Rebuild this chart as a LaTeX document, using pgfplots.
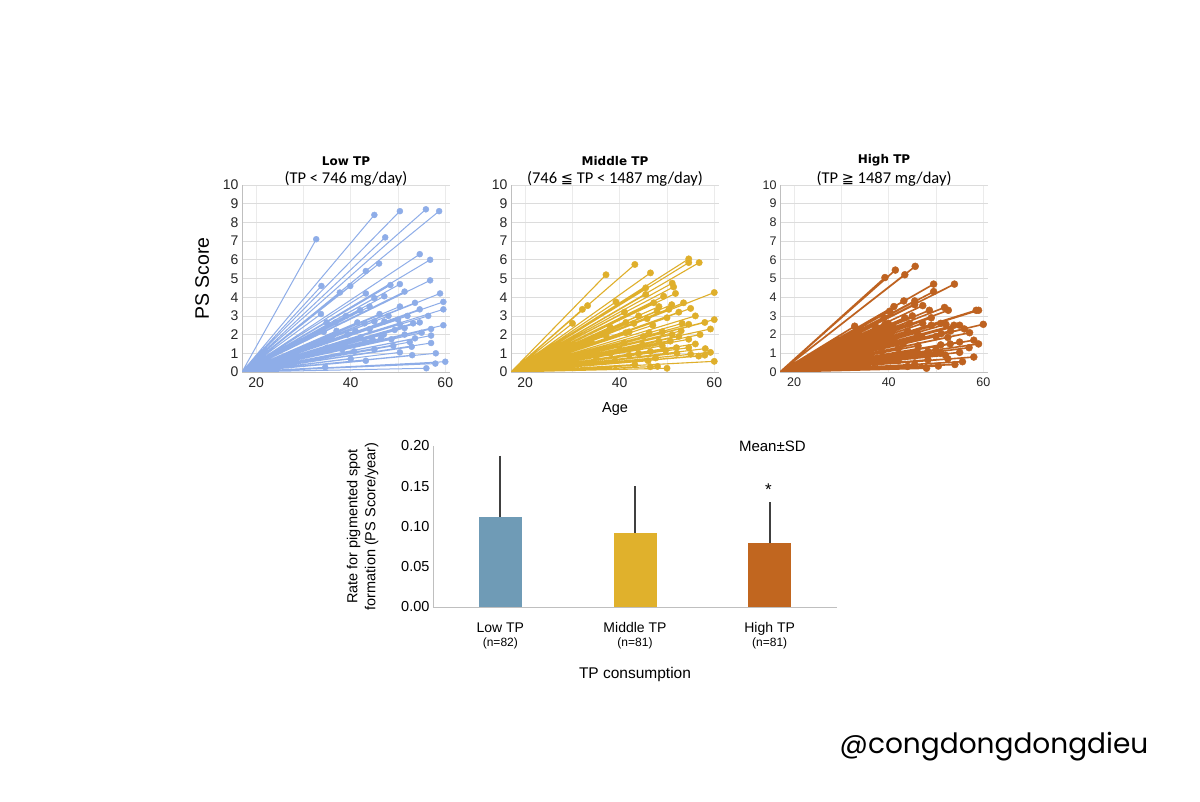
\documentclass[border=0pt]{standalone}
\usepackage{pgfplots}
\pgfplotsset{compat=1.18}
\usepackage{pgfplotstable}
\usepackage{fontspec}
\setmainfont{Liberation Sans}
\newfontfamily\carl{Carlito}
\newfontfamily\dejavu{DejaVu Sans}
\newfontfamily\pop{Poppins}
\definecolor{lblue}{HTML}{8EADE8}
\definecolor{lgold}{HTML}{DFAF2B}
\definecolor{lorange}{HTML}{BE6220}
\definecolor{barblue}{HTML}{6F9BB6}
\definecolor{bargold}{HTML}{E0B12C}
\definecolor{barorange}{HTML}{C1661F}
\definecolor{gridc}{HTML}{DCDCDC}
\definecolor{vgridc}{HTML}{EBEBEB}
\definecolor{axc}{HTML}{BFBFBF}
\definecolor{errc}{HTML}{404040}

% each line: start (17,0), end point (age, score), then a break
\pgfplotstableread[row sep=\\]{
x y\\
17 0\\ 32.7 7.1\\ nan nan\\
17 0\\ 45 8.4\\ nan nan\\
17 0\\ 50.4 8.6\\ nan nan\\
17 0\\ 55.9 8.7\\ nan nan\\
17 0\\ 58.7 8.6\\ nan nan\\
17 0\\ 47.3 7.2\\ nan nan\\
17 0\\ 46 5.8\\ nan nan\\
17 0\\ 54.6 6.3\\ nan nan\\
17 0\\ 56.8 6.0\\ nan nan\\
17 0\\ 43.2 5.4\\ nan nan\\
17 0\\ 39.9 4.6\\ nan nan\\
17 0\\ 37.7 4.25\\ nan nan\\
17 0\\ 33.8 4.6\\ nan nan\\
17 0\\ 56.8 4.9\\ nan nan\\
17 0\\ 48.4 4.65\\ nan nan\\
17 0\\ 50.4 4.7\\ nan nan\\
17 0\\ 51.4 4.3\\ nan nan\\
17 0\\ 58.9 4.2\\ nan nan\\
17 0\\ 43.2 4.2\\ nan nan\\
17 0\\ 45 3.95\\ nan nan\\
17 0\\ 47.1 4.05\\ nan nan\\
17 0\\ 50.4 3.5\\ nan nan\\
17 0\\ 53.6 3.7\\ nan nan\\
17 0\\ 59.6 3.75\\ nan nan\\
17 0\\ 59.6 3.35\\ nan nan\\
17 0\\ 54.6 3.35\\ nan nan\\
17 0\\ 33.7 3.1\\ nan nan\\
17 0\\ 46.1 3.1\\ nan nan\\
17 0\\ 34.9 2.65\\ nan nan\\
17 0\\ 36.8 2.65\\ nan nan\\
17 0\\ 41.4 2.65\\ nan nan\\
17 0\\ 42.9 2.6\\ nan nan\\
17 0\\ 45 2.7\\ nan nan\\
17 0\\ 47.1 2.7\\ nan nan\\
17 0\\ 50.4 2.55\\ nan nan\\
17 0\\ 53.2 2.6\\ nan nan\\
17 0\\ 56.4 3.0\\ nan nan\\
17 0\\ 54.6 2.65\\ nan nan\\
17 0\\ 59.6 2.5\\ nan nan\\
17 0\\ 57 2.3\\ nan nan\\
17 0\\ 49.3 2.25\\ nan nan\\
17 0\\ 51.4 2.35\\ nan nan\\
17 0\\ 34.3 2.15\\ nan nan\\
17 0\\ 39.3 2.0\\ nan nan\\
17 0\\ 42.1 1.85\\ nan nan\\
17 0\\ 44.6 1.75\\ nan nan\\
17 0\\ 46.4 1.8\\ nan nan\\
17 0\\ 48.6 1.75\\ nan nan\\
17 0\\ 51.4 2.0\\ nan nan\\
17 0\\ 53.6 1.8\\ nan nan\\
17 0\\ 57 1.95\\ nan nan\\
17 0\\ 52.5 1.6\\ nan nan\\
17 0\\ 57 1.55\\ nan nan\\
17 0\\ 52.9 1.35\\ nan nan\\
17 0\\ 50.4 1.05\\ nan nan\\
17 0\\ 40.7 1.1\\ nan nan\\
17 0\\ 38.2 1.2\\ nan nan\\
17 0\\ 43.2 0.6\\ nan nan\\
17 0\\ 34.6 0.25\\ nan nan\\
17 0\\ 57.9 0.45\\ nan nan\\
17 0\\ 38 1.5\\ nan nan\\
17 0\\ 41 2.2\\ nan nan\\
17 0\\ 44 2.3\\ nan nan\\
17 0\\ 36 1.8\\ nan nan\\
17 0\\ 48 3.0\\ nan nan\\
17 0\\ 52 3.0\\ nan nan\\
17 0\\ 42 3.3\\ nan nan\\
17 0\\ 55 2.1\\ nan nan\\
17 0\\ 49 1.4\\ nan nan\\
17 0\\ 45 1.2\\ nan nan\\
17 0\\ 53 0.9\\ nan nan\\
17 0\\ 40 0.7\\ nan nan\\
17 0\\ 47 2.0\\ nan nan\\
17 0\\ 43 1.6\\ nan nan\\
17 0\\ 50 2.8\\ nan nan\\
17 0\\ 58 1.0\\ nan nan\\
17 0\\ 37 2.2\\ nan nan\\
17 0\\ 35 1.3\\ nan nan\\
17 0\\ 44 3.5\\ nan nan\\
17 0\\ 56 0.2\\ nan nan\\
17 0\\ 39 3.0\\ nan nan\\
17 0\\ 60 0.55\\ nan nan\\
}\lowtp

\pgfplotstableread[row sep=\\]{
x y\\
17 0\\ 37.1 5.2\\ nan nan\\
17 0\\ 43.2 5.75\\ nan nan\\
17 0\\ 46.5 5.3\\ nan nan\\
17 0\\ 54.6 6.05\\ nan nan\\
17 0\\ 54.6 5.85\\ nan nan\\
17 0\\ 56.8 5.85\\ nan nan\\
17 0\\ 60 4.25\\ nan nan\\
17 0\\ 45.5 4.5\\ nan nan\\
17 0\\ 45.5 4.15\\ nan nan\\
17 0\\ 51.1 4.75\\ nan nan\\
17 0\\ 51.4 4.55\\ nan nan\\
17 0\\ 49.3 4.05\\ nan nan\\
17 0\\ 51.8 4.2\\ nan nan\\
17 0\\ 53.5 3.7\\ nan nan\\
17 0\\ 47.2 3.7\\ nan nan\\
17 0\\ 48.3 3.5\\ nan nan\\
17 0\\ 47.9 3.25\\ nan nan\\
17 0\\ 50.4 3.35\\ nan nan\\
17 0\\ 52.5 3.2\\ nan nan\\
17 0\\ 39.2 3.75\\ nan nan\\
17 0\\ 33.2 3.55\\ nan nan\\
17 0\\ 32.1 3.35\\ nan nan\\
17 0\\ 30 2.6\\ nan nan\\
17 0\\ 41.3 2.65\\ nan nan\\
17 0\\ 45.8 2.85\\ nan nan\\
17 0\\ 56 3.0\\ nan nan\\
17 0\\ 60 2.8\\ nan nan\\
17 0\\ 53.2 2.6\\ nan nan\\
17 0\\ 54.6 2.55\\ nan nan\\
17 0\\ 58 2.65\\ nan nan\\
17 0\\ 42 2.15\\ nan nan\\
17 0\\ 46.2 2.1\\ nan nan\\
17 0\\ 49 2.15\\ nan nan\\
17 0\\ 51.1 2.0\\ nan nan\\
17 0\\ 52.5 1.9\\ nan nan\\
17 0\\ 54.6 1.75\\ nan nan\\
17 0\\ 59.2 2.3\\ nan nan\\
17 0\\ 37.1 1.95\\ nan nan\\
17 0\\ 40.9 1.55\\ nan nan\\
17 0\\ 44.8 1.45\\ nan nan\\
17 0\\ 48.3 1.65\\ nan nan\\
17 0\\ 50.7 1.65\\ nan nan\\
17 0\\ 54.6 1.3\\ nan nan\\
17 0\\ 58.1 1.25\\ nan nan\\
17 0\\ 59.2 1.05\\ nan nan\\
17 0\\ 55 0.95\\ nan nan\\
17 0\\ 56.7 0.85\\ nan nan\\
17 0\\ 46.5 1.1\\ nan nan\\
17 0\\ 49.7 1.15\\ nan nan\\
17 0\\ 47.6 0.75\\ nan nan\\
17 0\\ 43.2 0.4\\ nan nan\\
17 0\\ 46.5 0.28\\ nan nan\\
17 0\\ 60 0.57\\ nan nan\\
17 0\\ 52.1 1.0\\ nan nan\\
17 0\\ 41.3 2.1\\ nan nan\\
17 0\\ 36 2.0\\ nan nan\\
17 0\\ 38 2.4\\ nan nan\\
17 0\\ 44 3.0\\ nan nan\\
17 0\\ 40 1.2\\ nan nan\\
17 0\\ 42 0.9\\ nan nan\\
17 0\\ 47 2.5\\ nan nan\\
17 0\\ 50 2.9\\ nan nan\\
17 0\\ 53 2.2\\ nan nan\\
17 0\\ 56 1.5\\ nan nan\\
17 0\\ 34 1.6\\ nan nan\\
17 0\\ 39 0.6\\ nan nan\\
17 0\\ 45 1.9\\ nan nan\\
17 0\\ 48 0.3\\ nan nan\\
17 0\\ 51 3.6\\ nan nan\\
17 0\\ 43 2.6\\ nan nan\\
17 0\\ 57 2.0\\ nan nan\\
17 0\\ 35 0.8\\ nan nan\\
17 0\\ 49 1.4\\ nan nan\\
17 0\\ 52 1.3\\ nan nan\\
17 0\\ 44 1.0\\ nan nan\\
17 0\\ 41 3.2\\ nan nan\\
17 0\\ 55 3.4\\ nan nan\\
17 0\\ 46 0.6\\ nan nan\\
17 0\\ 58 0.9\\ nan nan\\
17 0\\ 38 1.0\\ nan nan\\
17 0\\ 50 0.2\\ nan nan\\
}\midtp

\pgfplotstableread[row sep=\\]{
x y\\
17 0\\ 39.2 5.05\\ nan nan\\
17 0\\ 41.4 5.45\\ nan nan\\
17 0\\ 43.4 5.2\\ nan nan\\
17 0\\ 45.6 5.65\\ nan nan\\
17 0\\ 49.5 4.7\\ nan nan\\
17 0\\ 49.5 4.3\\ nan nan\\
17 0\\ 53.9 4.7\\ nan nan\\
17 0\\ 43.2 3.8\\ nan nan\\
17 0\\ 45.5 3.8\\ nan nan\\
17 0\\ 45.5 3.6\\ nan nan\\
17 0\\ 41.1 3.5\\ nan nan\\
17 0\\ 40.2 3.25\\ nan nan\\
17 0\\ 47.2 3.55\\ nan nan\\
17 0\\ 48.6 3.3\\ nan nan\\
17 0\\ 51.8 3.45\\ nan nan\\
17 0\\ 52.6 3.3\\ nan nan\\
17 0\\ 58.5 3.3\\ nan nan\\
17 0\\ 59 3.3\\ nan nan\\
17 0\\ 32.8 2.45\\ nan nan\\
17 0\\ 37.1 2.5\\ nan nan\\
17 0\\ 39.2 2.55\\ nan nan\\
17 0\\ 39.9 2.6\\ nan nan\\
17 0\\ 43.4 2.9\\ nan nan\\
17 0\\ 44.4 2.6\\ nan nan\\
17 0\\ 47.2 2.6\\ nan nan\\
17 0\\ 49 2.5\\ nan nan\\
17 0\\ 51 2.6\\ nan nan\\
17 0\\ 52.1 2.55\\ nan nan\\
17 0\\ 53.8 2.5\\ nan nan\\
17 0\\ 55 2.5\\ nan nan\\
17 0\\ 60 2.55\\ nan nan\\
17 0\\ 57.1 2.1\\ nan nan\\
17 0\\ 51.1 2.05\\ nan nan\\
17 0\\ 52.5 1.85\\ nan nan\\
17 0\\ 55 1.6\\ nan nan\\
17 0\\ 58 1.7\\ nan nan\\
17 0\\ 59 1.5\\ nan nan\\
17 0\\ 51 1.45\\ nan nan\\
17 0\\ 46.2 1.4\\ nan nan\\
17 0\\ 42 1.25\\ nan nan\\
17 0\\ 38.5 1.1\\ nan nan\\
17 0\\ 37.1 1.55\\ nan nan\\
17 0\\ 45.5 0.85\\ nan nan\\
17 0\\ 48.3 0.65\\ nan nan\\
17 0\\ 52.5 0.7\\ nan nan\\
17 0\\ 55 1.05\\ nan nan\\
17 0\\ 55.6 0.55\\ nan nan\\
17 0\\ 45.5 0.4\\ nan nan\\
17 0\\ 50.5 0.32\\ nan nan\\
17 0\\ 48.3 1.1\\ nan nan\\
17 0\\ 53.1 2.2\\ nan nan\\
17 0\\ 36.4 2.0\\ nan nan\\
17 0\\ 41.1 1.75\\ nan nan\\
17 0\\ 35 1.5\\ nan nan\\
17 0\\ 38 2.0\\ nan nan\\
17 0\\ 44 2.2\\ nan nan\\
17 0\\ 47 1.9\\ nan nan\\
17 0\\ 50 1.2\\ nan nan\\
17 0\\ 42 0.6\\ nan nan\\
17 0\\ 46 1.1\\ nan nan\\
17 0\\ 53 1.5\\ nan nan\\
17 0\\ 36 0.8\\ nan nan\\
17 0\\ 40 1.7\\ nan nan\\
17 0\\ 49 2.9\\ nan nan\\
17 0\\ 44 0.3\\ nan nan\\
17 0\\ 56 2.3\\ nan nan\\
17 0\\ 39 2.9\\ nan nan\\
17 0\\ 48 0.2\\ nan nan\\
17 0\\ 52 0.9\\ nan nan\\
17 0\\ 34 1.1\\ nan nan\\
17 0\\ 43 1.5\\ nan nan\\
17 0\\ 57 1.3\\ nan nan\\
17 0\\ 41 2.4\\ nan nan\\
17 0\\ 46 2.1\\ nan nan\\
17 0\\ 50 1.9\\ nan nan\\
17 0\\ 54 0.4\\ nan nan\\
17 0\\ 37 0.5\\ nan nan\\
17 0\\ 45 3.0\\ nan nan\\
17 0\\ 33 2.0\\ nan nan\\
17 0\\ 58 0.8\\ nan nan\\
17 0\\ 51 1.0\\ nan nan\\
}\hightp

\pgfplotsset{
  panel/.style={
    scale only axis, width=208pt, height=187pt, anchor=south west,
    xmin=17, xmax=61, ymin=0, ymax=10,
    xtick={20,40,60}, minor xtick={30,50}, ytick={0,1,...,10},
    xmajorgrids, xminorgrids, ymajorgrids,
    x grid style={draw=vgridc, line width=0.6pt},
    y grid style={draw=gridc, line width=0.6pt},
    minor grid style={draw=vgridc, line width=0.6pt},
    axis x line*=bottom, axis y line*=left,
    axis line style={draw=axc, line width=0.8pt, -},
    major tick length=0pt, minor tick length=0pt, tick style={draw=none},
    unbounded coords=jump,
    /pgf/number format/assume math mode=true,
    tick label style={font=\fontsize{14}{14}\selectfont, text=black!85},
    xticklabel style={yshift=-2pt},
    title style={at={(0.5,1)}, anchor=south, align=center, inner sep=0pt, yshift=-8pt},
    clip=true,
  },
}

\begin{document}
\begin{tikzpicture}
\path[fill=white, use as bounding box] (0,0) rectangle (1200pt,801pt);

% ---------- Low TP ----------
\begin{axis}[panel, at={(242pt,429pt)},
  ylabel={PS Score}, ylabel style={font=\fontsize{19.5}{19.5}\selectfont, yshift=7pt},
  title={{\dejavu\bfseries\fontsize{12}{12}\selectfont Low TP}\\[5pt]{\carl\fontsize{16.5}{16}\selectfont (TP < 746 mg/day)}}]
\addplot[lblue, line width=1pt] table {\lowtp};
\addplot[only marks, mark=*, mark size=3pt, color=lblue, restrict x to domain=18:70] table {\lowtp};
\end{axis}

% ---------- Middle TP ----------
\begin{axis}[panel, at={(511pt,429pt)},
  xlabel={Age}, xlabel style={font=\fontsize{14.5}{14.5}\selectfont, yshift=-8pt},
  title={{\dejavu\bfseries\fontsize{12}{12}\selectfont Middle TP}\\[5pt]{\carl\fontsize{16.5}{16}\selectfont (746 {\dejavu\fontsize{14.5}{16}\selectfont ≦} TP < 1487 mg/day)}}]
\addplot[lgold, line width=1.1pt] table {\midtp};
\addplot[only marks, mark=*, mark size=3.2pt, color=lgold, restrict x to domain=18:70] table {\midtp};
\end{axis}

% ---------- High TP ----------
\begin{axis}[panel, at={(780pt,429pt)},
  tick label style={font=\fontsize{12.5}{13}\selectfont},
  title={{\dejavu\bfseries\fontsize{12}{12}\selectfont High TP}\\[5pt]{\carl\fontsize{16.5}{16}\selectfont (TP {\dejavu\fontsize{14.5}{16}\selectfont ≧} 1487 mg/day)}}]
\addplot[lorange, line width=1.6pt] table {\hightp};
\addplot[only marks, mark=*, mark size=3.5pt, color=lorange, restrict x to domain=18:70] table {\hightp};
\end{axis}

% ---------- Bar chart ----------
\begin{axis}[scale only axis, width=404pt, height=161pt, at={(433pt,194pt)}, anchor=south west,
  xmin=-0.5, xmax=2.5, ymin=0, ymax=0.2,
  ytick={0,0.05,0.1,0.15,0.2},
  y tick label style={/pgf/number format/fixed, /pgf/number format/fixed zerofill, /pgf/number format/precision=2, font=\fontsize{14.5}{15}\selectfont},
  xtick={0,1,2},
  xticklabels={{Low TP\\[0pt]{\fontsize{12}{12}\selectfont (n=82)}},
               {Middle TP\\[0pt]{\fontsize{12}{12}\selectfont (n=81)}},
               {High TP\\[0pt]{\fontsize{12}{12}\selectfont (n=81)}}},
  x tick label style={align=center, font=\fontsize{14}{14}\selectfont, yshift=-12pt},
  axis x line*=bottom, axis y line*=left,
  axis line style={draw=axc, line width=0.8pt, -},
  major tick length=0pt, tick style={draw=none},
  /pgf/number format/assume math mode=true,
  xlabel={TP consumption}, xlabel style={font=\fontsize{15.5}{15.5}\selectfont, yshift=-11pt},
  ylabel={Rate for pigmented spot\\formation (PS Score/year)},
  ylabel style={align=center, font=\fontsize{14.5}{18}\selectfont, yshift=16pt},
  clip=false]
\addplot[ybar, bar width=43pt, bar shift=0pt, fill=barblue, draw=none,
  error bars/.cd, y dir=plus, y explicit, error mark=none,
  error bar style={draw=errc, line width=1.7pt}]
  coordinates {(0,0.112) +- (0,0.076)};
\addplot[ybar, bar width=43pt, bar shift=0pt, fill=bargold, draw=none,
  error bars/.cd, y dir=plus, y explicit, error mark=none,
  error bar style={draw=errc, line width=1.7pt}]
  coordinates {(1,0.092) +- (0,0.058)};
\addplot[ybar, bar width=43pt, bar shift=0pt, fill=barorange, draw=none,
  error bars/.cd, y dir=plus, y explicit, error mark=none,
  error bar style={draw=errc, line width=1.7pt}]
  coordinates {(2,0.079) +- (0,0.051)};
\node[font=\fontsize{15}{15}\selectfont] at (axis cs:2.02,0.2) {Mean±SD};
\node[font=\fontsize{17}{17}\selectfont] at (axis cs:1.99,0.146) {*};
\end{axis}

\node[font=\pop\fontsize{28}{28}\selectfont] at (994pt,54pt) {@congdongdongdieu};
\end{tikzpicture}
\end{document}
